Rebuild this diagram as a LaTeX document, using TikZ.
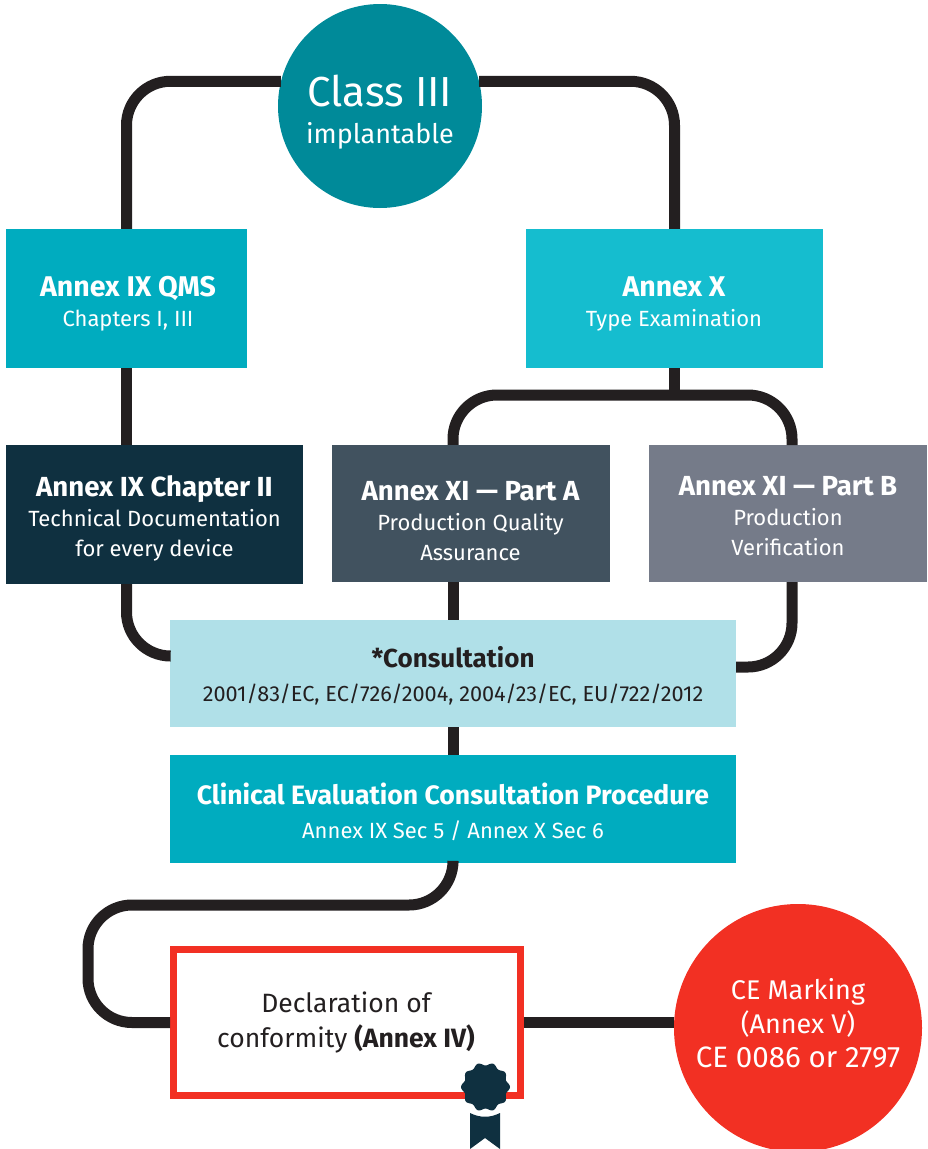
\documentclass[tikz,border=0pt]{standalone}
\usepackage{fontspec}
\setmainfont{Fira Sans}
\usepackage{xcolor}
\usetikzlibrary{positioning,calc}
\definecolor{linkblack}{HTML}{231F20}
\definecolor{tealA}{HTML}{00ACBF}
\definecolor{tealB}{HTML}{15BDCF}
\definecolor{tealC}{HTML}{008A99}
\definecolor{navyA}{HTML}{0F3040}
\definecolor{slateA}{HTML}{41525F}
\definecolor{slateB}{HTML}{757B89}
\definecolor{paleA}{HTML}{B0E0E8}
\definecolor{redA}{HTML}{F23023}
\newcommand{\headtext}[2][27.6]{{\fontsize{#1}{30}\selectfont\bfseries #2}}
\tikzset{
    link/.style={line width=11pt, draw=linkblack, rounded corners=44pt},
    boxnode/.style={inner sep=0pt},
    boxtext/.style={inner sep=0pt, align=center, text=white, font=\fontsize{22}{30}\selectfont},
    darktext/.style={boxtext, text=linkblack},
}
\begin{document}
\begin{tikzpicture}[x=1pt, y=-1pt]
    \useasboundingbox (0,0) rectangle (928,1149);

    % Start
    \node[boxnode, circle, fill=tealC, minimum size=204pt] (classiii) at (380,106) {};
    \node[boxtext, font=\fontsize{27}{37}\selectfont] (classiiitext) at (380,112)
        {{\fontsize{42}{37}\selectfont Class III}\\implantable};

    % Annex boxes
    \node[boxnode, fill=tealA, minimum width=241pt, minimum height=139pt] (annexq) at (126.5,298.5) {};
    \node[boxtext] (annexqtext) at (128,303.5) {\headtext[28.5]{Annex IX QMS}\\Chapters I, III};
    \node[boxnode, fill=tealB, minimum width=297pt, minimum height=139pt] (annexx) at (674.5,298.5) {};
    \node[boxtext] (annexxtext) at (674,303.5) {\headtext[28.5]{Annex X}\\Type Examination};
    \node[boxnode, fill=navyA, minimum width=297pt, minimum height=139pt] (chapii) at (154.5,514.5) {};
    \node[boxtext] (chapiitext) at (154.5,518.5) {\headtext{Annex IX Chapter II}\\Technical Documentation\\for every device};
    \node[boxnode, fill=slateA, minimum width=278pt, minimum height=137pt] (parta) at (471,513.5) {};
    \node[boxtext] (partatext) at (470.5,521) {\headtext{Annex XI --- Part A}\\Production Quality\\Assurance};
    \node[boxnode, fill=slateB, minimum width=278pt, minimum height=137pt] (partb) at (788,513.5) {};
    \node[boxtext] (partbtext) at (788,516) {\headtext{Annex XI --- Part B}\\Production\\Verification};

    % Consultation
    \node[boxnode, fill=paleA, minimum width=566pt, minimum height=107pt] (consult) at (453,673.5) {};
    \node[darktext, font=\fontsize{21.7}{34}\selectfont] (consulttext) at (453,676)
        {\headtext[26]{*Consultation}\\2001/83/EC, EC/726/2004, 2004/23/EC, EU/722/2012};
    \node[boxnode, fill=tealA, minimum width=566pt, minimum height=108pt] (clinical) at (453,809) {};
    \node[boxtext, font=\fontsize{22}{34}\selectfont] (clinicaltext) at (453,811.5)
        {\headtext[26.6]{Clinical Evaluation Consultation Procedure}\\Annex IX Sec 5 / Annex X Sec 6};

    % End
    \node[boxnode, draw=redA, line width=7pt, minimum width=347pt, minimum height=146pt] (declare) at (347,1022.5) {};
    \node[darktext, font=\fontsize{26.5}{35}\selectfont] (declaretext) at (346,1022.5)
        {Declaration of\\conformity \textbf{(Annex IV)}};
    \node[boxnode, circle, fill=redA, minimum size=248pt] (cemark) at (798,1028) {};
    \node[boxtext, font=\fontsize{27}{34}\selectfont] (cemarktext) at (798,1023)
        {CE Marking\\(Annex V)\\{\fontsize{29.5}{34}\selectfont CE 0086 or 2797}};

    % Joints on the lines
    \coordinate (split) at (674.5,395);
    \coordinate (splitb) at (792,445);
    \coordinate (consultl) at (170,656);
    \coordinate (consultr) at (736,667);
    \coordinate (loop) at (88,905);

    % Links
    \draw[link] (classiii.166) -| (annexq.north);
    \draw[link] (classiii.14) -| (annexx.north);
    \draw[link] (annexq.south) -- (annexq.south |- chapii.north);
    \draw[link, rounded corners=0pt] (annexx.south) -- (split);
    \draw[link] (parta.north -| consult.north) |- (split) -| (splitb);
    \draw[link] (chapii.south -| annexq.south) |- (consultl);
    \draw[link, rounded corners=0pt] (parta.south -| consult.north) -- (consult.north);
    \draw[link] (partb.south -| splitb) |- (consultr);
    \draw[link] (consult.south) -- (clinical.north);
    \draw[link] (clinical.south) |- (loop) |- (declare.west);
    \draw[link] (declare.east) -- (cemark.west |- declare.east);

    % Seal
    \fill[navyA] (470,1113) .. controls (480,1118) and (490,1118) .. (500,1113) -- (500,1149) -- (485,1138) -- (470,1149) -- cycle;
    \fill[navyA, smooth cycle] plot[domain=0:356, samples=90] ({485.5+(23+1.5*cos(10*\x))*cos(\x)},{1087+(23+1.5*cos(10*\x))*sin(\x)});
\end{tikzpicture}
\end{document}
